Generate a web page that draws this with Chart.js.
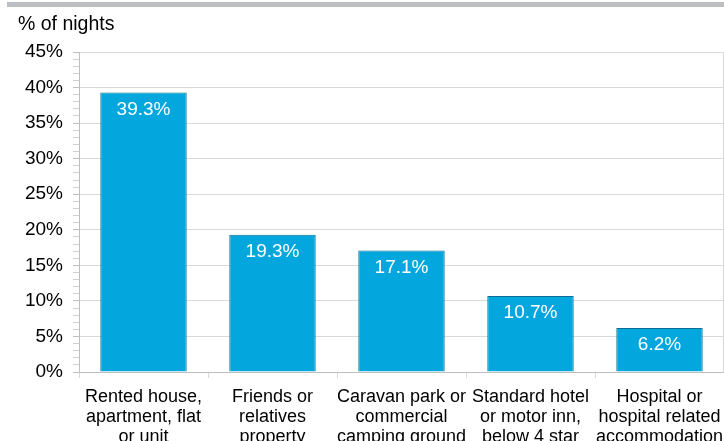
<!DOCTYPE html>
<html>
<head>
<meta charset="utf-8">
<script src="https://cdn.jsdelivr.net/npm/chart.js@4"></script>
<style>
  html, body { margin: 0; padding: 0; background: #fff; }
  #wrap { position: relative; width: 724px; height: 441px; }
  #topbar { position: absolute; left: 7px; top: 2px; width: 717px; height: 5px; background: #BDBEC2; }
</style>
</head>
<body>
<div id="wrap">
  <canvas id="mybar" width="724" height="441"></canvas>
  <div id="topbar"></div>
</div>
<script>
const categories = [
    ['Rented house,', 'apartment, flat', 'or unit'],
    ['Friends or', 'relatives', 'property'],
    ['Caravan park or', 'commercial', 'camping ground'],
    ['Standard hotel', 'or motor inn,', 'below 4 star'],
    ['Hospital or', 'hospital related', 'accommodation']
];
const nights = [39.3, 19.3, 17.1, 10.7, 6.2];
const yTicks = [0, 5, 10, 15, 20, 25, 30, 35, 40, 45];
const yTitle = '% of nights';

const font = "Arial, 'Liberation Sans', sans-serif";

// value labels inside the top of each bar
const barLabels = {
    id: 'barLabels',
    afterDatasetsDraw(chart) {
        const ctx = chart.ctx;
        const meta = chart.getDatasetMeta(0);
        ctx.save();
        ctx.font = '19px ' + font;
        ctx.fillStyle = '#fff';
        ctx.textAlign = 'center';
        ctx.textBaseline = 'middle';
        meta.data.forEach((bar, i) => {
            ctx.fillText(nights[i].toFixed(1) + '%', bar.x, bar.y + 17);
        });
        ctx.restore();
    }
};

// title text and right border of the plot
const extras = {
    id: 'extras',
    afterDraw(chart) {
        const ctx = chart.ctx;
        const a = chart.chartArea;
        ctx.save();
        ctx.strokeStyle = '#D9D9D9';
        ctx.lineWidth = 1;
        ctx.beginPath();
        ctx.moveTo(a.right - 0.5, a.top);
        ctx.lineTo(a.right - 0.5, a.bottom);
        ctx.stroke();
        ctx.font = '19.5px ' + font;
        ctx.fillStyle = '#000';
        ctx.textBaseline = 'middle';
        ctx.fillText(yTitle, 18, 25);
        ctx.restore();
    }
};

const ctxx = document.getElementById('mybar').getContext('2d');
const myChart = new Chart(ctxx, {
    type: 'bar',
    data: {
        labels: categories,
        datasets: [{
            label: yTitle,
            data: nights,
            backgroundColor: '#03A7DE',
            borderColor: '#0B6F91',
            borderWidth: 1,
            barPercentage: 0.67,
            categoryPercentage: 1
        }]
    },
    options: {
        responsive: false,
        animation: false,
        layout: { padding: { top: 52, left: 18, right: 0, bottom: 0 } },
        plugins: { legend: { display: false }, tooltip: { enabled: false } },
        scales: {
            x: {
                afterFit(scale) {
                    scale.height = 69;
                    scale.paddingLeft = 0;
                    scale.paddingRight = 0;
                },
                grid: {
                    drawOnChartArea: false,
                    drawTicks: true,
                    tickLength: 6,
                    tickColor: '#D9D9D9'
                },
                border: { color: '#BFBFBF' },
                ticks: {
                    color: '#000',
                    font: { family: font, size: 18, lineHeight: 1.11 },
                    maxRotation: 0,
                    autoSkip: false,
                    padding: 9
                }
            },
            y: {
                min: 0,
                max: 45,
                afterFit(scale) { scale.width = 61; },
                afterBuildTicks(scale) {
                    const t = [];
                    for (let v = 0; v <= 45; v++) t.push({ value: v });
                    scale.ticks = t;
                },
                grid: {
                    color: c => (yTicks.includes(c.tick.value) ? '#D9D9D9' : 'rgba(0,0,0,0)'),
                    tickColor: c => (yTicks.includes(c.tick.value) ? '#BFBFBF' : '#D0D0D0'),
                    tickLength: 6
                },
                border: { color: '#BFBFBF' },
                ticks: {
                    autoSkip: false,
                    color: '#000',
                    font: { family: font, size: 19 },
                    padding: 10,
                    callback: v => (yTicks.includes(v) ? v + '%' : '')
                }
            }
        }
    },
    plugins: [barLabels, extras]
});
</script>
</body>
</html>
